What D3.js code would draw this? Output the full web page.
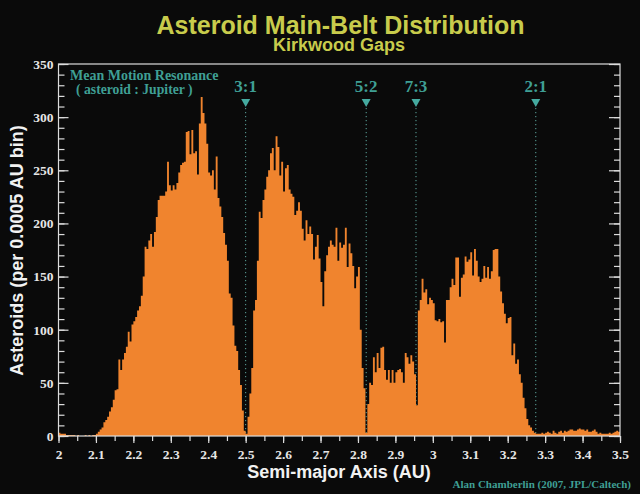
<!DOCTYPE html>
<html>
<head>
<meta charset="utf-8">
<title>Asteroid Main-Belt Distribution</title>
<script src="https://cdn.jsdelivr.net/npm/d3@7"></script>
<style>
  html, body { margin: 0; padding: 0; background: #0a0a0a; }
  svg { display: block; }
  .tickLabel { font-family: "Liberation Serif", serif; font-weight: bold; fill: #e6e6e6; font-size: 13.5px; }
  .sans { font-family: "Liberation Sans", Arial, sans-serif; font-weight: bold; }
  .note { font-family: "Liberation Serif", serif; font-weight: bold; fill: #3f9f94; }
</style>
</head>
<body>
<svg id="chart" width="640" height="494"></svg>
<script>
// Counts every 0.005 AU, one list for each 0.1 AU
var from20 = [3,2,2,2,1,1,1,1,1,0,1,0,0,0,1,0,1,0,1,1];
var from21 = [2,4,6,8,13,15,18,23,27,34,43,44,72,62,72,78,84,98,89,105];
var from22 = [108,112,118,122,132,150,178,176,184,190,178,192,206,222,226,226,226,230,258,236];
var from23 = [231,236,232,238,248,255,257,258,286,287,265,288,266,268,246,294,319,304,294,275];
var from24 = [248,245,250,232,263,224,216,206,191,180,165,134,130,104,85,80,62,48,24,5];
var from25 = [2,18,40,64,118,128,165,211,205,222,232,244,250,266,271,250,282,272,245,258];
var from26 = [230,252,255,232,228,225,208,212,220,212,195,184,203,190,197,190,166,178,189,167];
var from27 = [145,122,155,170,178,184,180,178,196,165,182,177,180,196,159,181,172,160,139,150];
var from28 = [159,100,64,45,3,30,50,48,74,60,78,64,83,84,62,53,62,50,62,50];
var from29 = [60,62,63,60,50,78,74,68,76,70,58,29,118,128,148,135,138,124,130,128];
var from30 = [125,109,108,110,107,108,88,128,128,140,148,142,168,168,131,149,152,169,164,166];
var from31 = [173,151,176,165,150,145,148,160,149,159,148,155,175,176,176,150,136,125,115,106];
var from32 = [111,112,76,87,68,72,58,50,36,26,16,10,8,5,3,2,2,2,3,2];
var from33 = [3,4,3,2,5,3,2,4,5,3,5,4,5,6,6,5,5,6,7,6];
var from34 = [6,5,6,4,4,5,6,4,2,3,2,2,2,2,3,2,3,4,5,4];

var resonanceLabels = ["3:1", "5:2", "7:3", "2:1"];
var resonanceAxis = [2.5, 2.822, 2.955, 3.275];
var xTickValues = [2, 2.1, 2.2, 2.3, 2.4, 2.5, 2.6, 2.7, 2.8, 2.9, 3, 3.1, 3.2, 3.3, 3.4, 3.5];

var binStep = 0.005;
var counts = [].concat(from20, from21, from22, from23, from24, from25, from26, from27,
    from28, from29, from30, from31, from32, from33, from34);

var svg = d3.select("#chart");
var lineColor = "#dcdcdc", orange = "#f0842e", yellow = "#c8cc4c";

var x = d3.scaleLinear().domain([2, 3.5]).range([58.5, 620]);
var y = d3.scaleLinear().domain([0, 350]).range([436, 64]);

// Dotted resonance lines go behind the histogram
svg.selectAll(".resonanceLine")
    .data(resonanceAxis)
    .enter()
    .append("line")
        .attr("class", "resonanceLine")
        .attr("x1", function (d) { return x(d); })
        .attr("x2", function (d) { return x(d); })
        .attr("y1", 108)
        .attr("y2", y(0))
        .attr("stroke", "#5fa8a0")
        .attr("stroke-width", 1)
        .attr("stroke-dasharray", "1.2,2.8");

// One stepped path, separate rects leave seams at this width
var area = d3.area()
    .curve(d3.curveStepAfter)
    .x(function (d) { return x(d.a); })
    .y0(y(0))
    .y1(function (d) { return y(d.n); });

var bins = counts.map(function (n, i) { return { a: 2 + i * binStep, n: n }; });
bins.push({ a: 3.5, n: counts[counts.length - 1] });

svg.append("path")
    .datum(bins)
    .attr("d", area)
    .attr("fill", orange);

// Frame
svg.append("rect")
    .attr("x", x(2))
    .attr("y", y(350))
    .attr("width", x(3.5) - x(2))
    .attr("height", y(0) - y(350))
    .attr("fill", "none")
    .attr("stroke", lineColor)
    .attr("stroke-width", 1.2);

// Axis helper, the library's axis with the domain line removed and our colours
function drawAxis(axis, cls) {
    var g = svg.append("g").attr("class", cls).call(axis);
    g.select(".domain").remove();
    g.selectAll(".tick line").attr("stroke", lineColor).attr("stroke-width", 1.2);
    return g;
}

var yMinor = d3.range(0, 351, 10);
var yMajor = d3.range(0, 351, 50);

drawAxis(d3.axisLeft(y).tickValues(yMinor).tickSize(-6).tickFormat(""), "yMinor")
    .attr("transform", "translate(" + x(2) + ",0)");
var yLeft = drawAxis(d3.axisLeft(y).tickValues(yMajor).tickSize(-10).tickPadding(14), "yMajor")
    .attr("transform", "translate(" + x(2) + ",0)");
yLeft.selectAll("text")
    .attr("class", "tickLabel")
    .attr("x", -5)
    .style("font-size", "13.5px")
    .style("font-family", "Liberation Serif");

drawAxis(d3.axisRight(y).tickValues(yMinor).tickSize(-6).tickFormat(""), "yMinorRight")
    .attr("transform", "translate(" + x(3.5) + ",0)");
drawAxis(d3.axisRight(y).tickValues(yMajor).tickSize(-11).tickFormat(""), "yMajorRight")
    .attr("transform", "translate(" + x(3.5) + ",0)");

var xMinor = d3.range(0, 31).map(function (i) { return 2 + i * 0.05; });
drawAxis(d3.axisBottom(x).tickValues(xMinor).tickSize(5).tickFormat(""), "xMinor")
    .attr("transform", "translate(0," + y(0) + ")");
var xBottom = drawAxis(d3.axisBottom(x).tickValues(xTickValues).tickSize(7).tickFormat(d3.format("")), "xMajor")
    .attr("transform", "translate(0," + y(0) + ")");
xBottom.selectAll("text")
    .attr("class", "tickLabel")
    .attr("y", 13)
    .style("font-size", "13.5px")
    .style("font-family", "Liberation Serif");

// Titles
svg.append("text")
    .attr("class", "sans")
    .attr("x", 340.5)
    .attr("y", 33.5)
    .attr("text-anchor", "middle")
    .attr("fill", yellow)
    .style("font-size", "25px")
    .text("Asteroid Main-Belt Distribution");
svg.append("text")
    .attr("class", "sans")
    .attr("x", 339)
    .attr("y", 51)
    .attr("text-anchor", "middle")
    .attr("fill", yellow)
    .style("font-size", "18px")
    .text("Kirkwood Gaps");
svg.append("text")
    .attr("class", "sans")
    .attr("x", 339)
    .attr("y", 478)
    .attr("text-anchor", "middle")
    .attr("fill", "#f2f2f2")
    .style("font-size", "18px")
    .text("Semi-major Axis (AU)");
svg.append("text")
    .attr("class", "sans")
    .attr("transform", "translate(23,250.5) rotate(-90)")
    .attr("text-anchor", "middle")
    .attr("fill", "#f2f2f2")
    .style("font-size", "18px")
    .text("Asteroids (per 0.0005 AU bin)");

// Resonance notes
svg.append("text")
    .attr("class", "note")
    .attr("x", 70)
    .attr("y", 80)
    .style("font-size", "14px")
    .text("Mean Motion Resonance");
svg.append("text")
    .attr("class", "note")
    .attr("x", 76)
    .attr("y", 93.5)
    .style("font-size", "13.7px")
    .text("( asteroid : Jupiter )");

var marks = svg.selectAll(".resonance")
    .data(resonanceAxis)
    .enter()
    .append("g")
        .attr("class", "resonance")
        .attr("transform", function (d) { return "translate(" + x(d) + ",0)"; });

marks.append("text")
    .attr("class", "note")
    .attr("y", 92)
    .attr("text-anchor", "middle")
    .style("font-size", "17px")
    .text(function (d, i) { return resonanceLabels[i]; });

marks.append("path")
    .attr("d", "M-4.5,99L4.5,99L0,107Z")
    .attr("fill", "#45aaa0");

svg.append("text")
    .attr("class", "note")
    .attr("x", 631)
    .attr("y", 487.5)
    .attr("text-anchor", "end")
    .style("font-size", "11px")
    .text("Alan Chamberlin (2007, JPL/Caltech)");
</script>
</body>
</html>
